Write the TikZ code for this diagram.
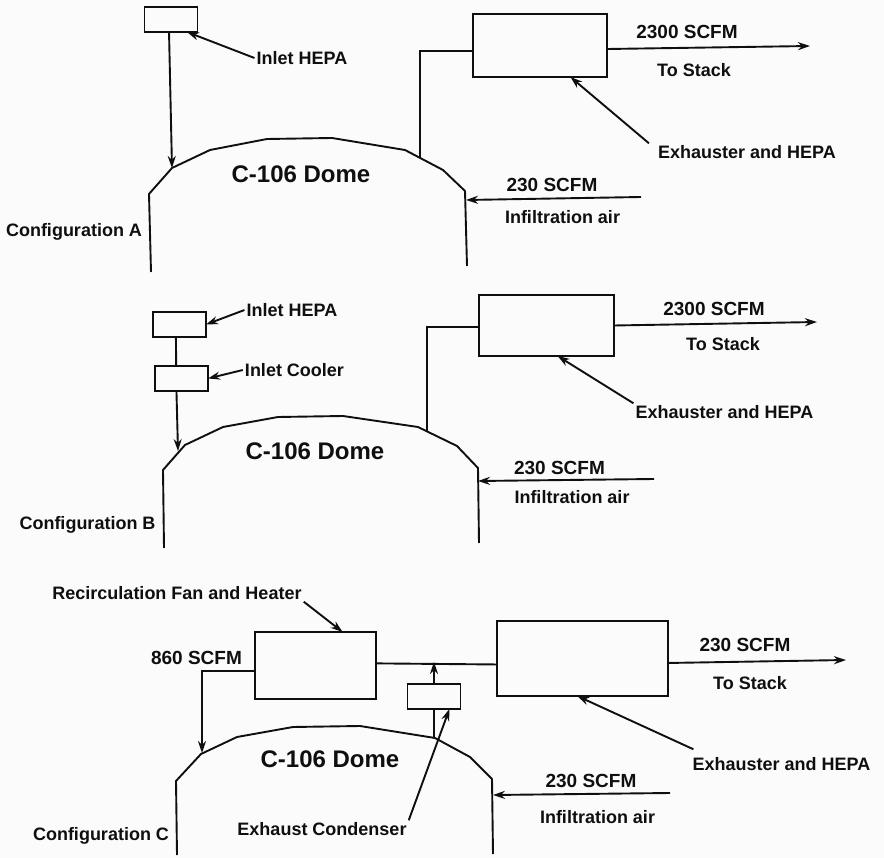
\documentclass[tikz,border=0pt]{standalone}
\usepackage{fontspec}
\setmainfont{Liberation Sans}
\usetikzlibrary{arrows.meta}
\definecolor{scanwhite}{RGB}{251,251,251}
\definecolor{scanink}{RGB}{15,15,15}

\begin{document}
\begin{tikzpicture}[
  x=1pt, y=-1pt,
  unit/.style={rectangle, draw=scanink, line width=1.9pt, inner sep=0pt, outer sep=0pt},
  smallunit/.style={unit, minimum width=53pt, minimum height=25pt},
  lbl/.style={inner sep=2pt, text=scanink, text height=13pt, text depth=0pt,
              font=\fontsize{18}{20}\selectfont\bfseries},
  flow/.style={lbl, font=\fontsize{19}{20}\selectfont\bfseries},
  domelbl/.style={lbl, text height=17pt, font=\fontsize{24}{26}\selectfont\bfseries},
  vessel/.style={draw=scanink, line width=1.9pt, line join=round},
  pipe/.style={draw=scanink, line width=1.9pt},
  arr/.style={-{Stealth[length=12pt,width=8pt]}, draw=scanink, line width=1.9pt}
]
\fill[scanwhite] (0,0) rectangle (884,858);
\useasboundingbox (0,0) rectangle (884,858);

\draw[vessel] (151,272) -- (149,194) -- (172,168) coordinate (inA) -- (210,150) -- (267,139)
  -- (332,138) -- (405,150) -- (443,170) -- (465,191) coordinate (capA) -- (467,266);
\draw[vessel] (164,548) -- (163,470) -- (185,445) -- (223,427) -- (278,417)
  -- (343,416) -- (418,427) -- (457,446) -- (478,468) -- (479,543);
\draw[vessel] (177,855) -- (176,781) -- (201,754) -- (237,737) -- (293,727)
  -- (360,726) -- (435,738) -- (470,757) -- (492,779) -- (493,854);

\coordinate (outA) at (420,158);
\coordinate (wallA) at (466,200);
\coordinate (airA) at (641,197);
\coordinate (stackA) at (810,46);
\coordinate (inB) at (178,451);
\coordinate (outB) at (427,431);
\coordinate (wallB) at (478,481);
\coordinate (airB) at (654,479);
\coordinate (stackB) at (817,322);
\coordinate (inC) at (202,753);
\coordinate (ventC) at (434,738);
\coordinate (tipC) at (434,662);
\coordinate (wallC) at (493,795);
\coordinate (airC) at (670,793);
\coordinate (stackC) at (846,660);

\node[smallunit] (hepaA) at (171,19.5) {};
\node[unit, minimum width=134pt, minimum height=63pt] (exhA) at (540,45.5) {};
\node[lbl] (hepalblA) at (302,58) {Inlet HEPA};
\node[flow] (rateA) at (687,32) {2300 SCFM};
\node[lbl] (stacklblA) at (694,70) {To Stack};
\node[lbl] (exhlblA) at (747,152) {Exhauster and HEPA};
\node[flow] (airrateA) at (552,185) {230 SCFM};
\node[lbl] (airlblA) at (562.5,217) {Infiltration air};
\node[domelbl] (domeA) at (301,174) {C-106 Dome};
\node[lbl] (confA) at (74,230) {Configuration A};
\draw[arr] (hepaA.-99) -- (inA);
\draw[arr] (hepalblA.west) -- (hepaA.-38);
\draw[pipe] (exhA.185) -| (outA);
\draw[arr] (exhA.-3) -- (stackA);
\draw[arr] ([xshift=-7pt]exhlblA.north west) -- (exhA.-46);
\draw[arr] (airA) -- (wallA);

\node[smallunit] (hepaB) at (179.5,324.5) {};
\node[smallunit] (coolB) at (181.5,378.5) {};
\node[unit, minimum width=135pt, minimum height=61pt] (exhB) at (546.5,325.5) {};
\node[lbl] (hepalblB) at (292,310) {Inlet HEPA};
\node[lbl] (coollblB) at (294.5,370) {Inlet Cooler};
\node[flow] (rateB) at (714,309) {2300 SCFM};
\node[lbl] (stacklblB) at (723,344) {To Stack};
\node[lbl] (exhlblB) at (724.5,412) {Exhauster and HEPA};
\node[flow] (airrateB) at (559.5,468) {230 SCFM};
\node[lbl] (airlblB) at (572,497) {Infiltration air};
\node[domelbl] (domeB) at (315,451) {C-106 Dome};
\node[lbl] (confB) at (87.5,523) {Configuration B};
\draw[pipe] (hepaB.-106) -- (coolB.113);
\draw[arr] (coolB.-112) -- (inB);
\draw[arr] (hepalblB.west) -- (hepaB.east);
\draw[arr] (coollblB.west) -- (coolB.east);
\draw[pipe] (exhB.181) -| (outB);
\draw[arr] (exhB.east) -- (stackB);
\draw[arr] (exhlblB.north west) -- (exhB.-70);
\draw[arr] (airB) -- (wallB);

\node[unit, minimum width=121pt, minimum height=67pt] (fanC) at (315.5,665.5) {};
\node[smallunit] (condC) at (434,696.5) {};
\node[unit, minimum width=171pt, minimum height=75pt] (exhC) at (582.5,658.5) {};
\node[lbl] (fanlblC) at (177,593) {Recirculation Fan and Heater};
\node[flow] (recircC) at (196.5,658) {860 SCFM};
\node[flow] (rateC) at (745,645) {230 SCFM};
\node[lbl] (stacklblC) at (750,683) {To Stack};
\node[lbl] (exhlblC) at (781.5,764) {Exhauster and HEPA};
\node[flow] (airrateC) at (591,781) {230 SCFM};
\node[lbl] (airlblC) at (597.5,817) {Infiltration air};
\node[domelbl] (domeC) at (330,759) {C-106 Dome};
\node[lbl] (condlblC) at (322,829) {Exhaust Condenser};
\node[lbl] (confC) at (101,834) {Configuration C};
\draw[arr] (fanlblC.south east) -- (fanC.51);
\draw[arr] (fanC.185) -| (inC);
\draw[pipe] (fanC.2) -- (exhC.184);
\draw[pipe] (ventC) -- (condC.south);
\draw[arr] (condC.north) -- (tipC);
\draw[arr] (condlblC.north east) -- (condC.-39);
\draw[arr] (exhC.-3) -- (stackC);
\draw[arr] ([xshift=3pt,yshift=6pt]exhlblC.north west) -- (exhC.-98);
\draw[arr] (airC) -- (wallC);
\end{tikzpicture}
\end{document}
